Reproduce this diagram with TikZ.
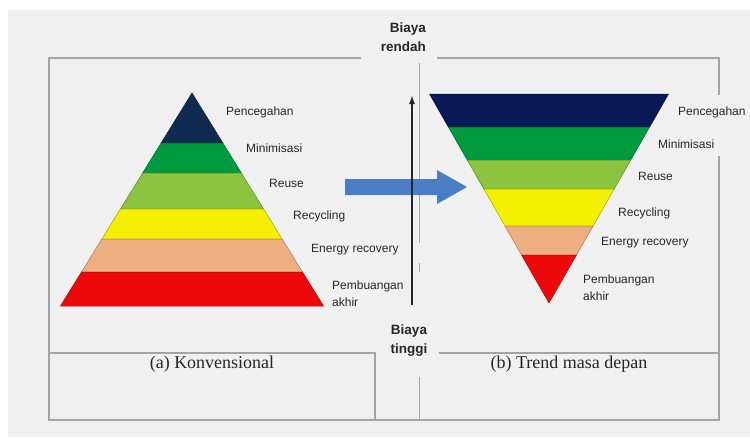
\documentclass[tikz,border=0pt]{standalone}
\usepackage{fontspec}
\setmainfont{Liberation Serif}
\setsansfont{Liberation Sans}
\usetikzlibrary{arrows.meta,calc}

\definecolor{bggray}{HTML}{F0F0F0}
\definecolor{framegray}{HTML}{A4A4A4}
\definecolor{labelgray}{HTML}{262626}
\definecolor{navyL}{HTML}{0F2B52}
\definecolor{navyR}{HTML}{0A1957}
\definecolor{grn}{HTML}{009A3E}
\definecolor{lgrn}{HTML}{8CC43F}
\definecolor{ylw}{HTML}{F2F000}
\definecolor{peach}{HTML}{EDAE80}
\definecolor{rd}{HTML}{EE0A0A}
\definecolor{arrowblue}{HTML}{4A7EC4}

\tikzset{
  frame/.style={draw=framegray,line width=1.3pt},
  lbl/.style={anchor=west,inner sep=0pt,text=labelgray,align=left,
    font=\sffamily\fontsize{12}{17}\selectfont},
  cost/.style={inner sep=0pt,text=labelgray,
    font=\sffamily\bfseries\fontsize{13.5}{19}\selectfont},
  capt/.style={inner sep=0pt,text=labelgray,font=\rmfamily\fontsize{18}{20}\selectfont}
}

\begin{document}
\begin{tikzpicture}[x=1pt,y=-1pt]

      \useasboundingbox (0,0) rectangle (750,437);
      \fill[bggray] (8,10) rectangle (750,437);

      \draw[frame] (361,58) -- (49,58) -- (49,420) -- (719,420) -- (719,156);
      \draw[frame] (437,58) -- (719,58) -- (719,95);
      \draw[frame] (49,353) -- (375,353) -- (375,420);
      \draw[frame] (439,353) -- (719,353);
      \draw[frame,line width=0.8pt] (419,63) -- (419,243);
      \draw[frame,line width=0.8pt] (419,263) -- (419,272);
      \draw[frame,line width=0.8pt] (419,377) -- (419,420);

      \coordinate (LT) at (192,93);
      \coordinate (LL) at (60.5,306);
      \coordinate (LR) at (323.5,306);
      \foreach \ya/\yb/\col in {93/143/navyL,143/173/grn,173/209/lgrn,209/239/ylw,239/272/peach,272/306/rd}
        \filldraw[fill=\col,draw=\col!70!black,line width=0.5pt]
          ($(LT)!{(\ya-93)/213}!(LL)$) -- ($(LT)!{(\yb-93)/213}!(LL)$)
          -- ($(LT)!{(\yb-93)/213}!(LR)$) -- ($(LT)!{(\ya-93)/213}!(LR)$) -- cycle;

      \coordinate (RB) at (549,303);
      \coordinate (RL) at (429.5,94);
      \coordinate (RR) at (668.5,94);
      \foreach \ya/\yb/\col in {94/127/navyR,127/160/grn,160/189/lgrn,189/226/ylw,226/255/peach,255/303/rd}
        \filldraw[fill=\col,draw=\col!70!black,line width=0.5pt]
          ($(RB)!{(303-\ya)/209}!(RL)$) -- ($(RB)!{(303-\yb)/209}!(RL)$)
          -- ($(RB)!{(303-\yb)/209}!(RR)$) -- ($(RB)!{(303-\ya)/209}!(RR)$) -- cycle;

      \node[lbl] (lpen) at (226,112) {Pencegahan};
      \node[lbl] (lmin) at (246,148) {Minimisasi};
      \node[lbl] (lreu) at (269,183) {Reuse};
      \node[lbl] (lrec) at (293,216) {Recycling};
      \node[lbl] (lene) at (311,250) {Energy recovery};
      \node[lbl] (lpem) at (332,293.5) {Pembuangan\\akhir};

      \node[lbl] (rpen) at (678,112) {Pencegahan};
      \node[lbl] (rmin) at (658,144) {Minimisasi};
      \node[lbl] (rreu) at (638,176) {Reuse};
      \node[lbl] (rrec) at (618,213) {Recycling};
      \node[lbl] (rene) at (601,243) {Energy recovery};
      \node[lbl] (rpem) at (583,287.5) {Pembuangan\\akhir};

      \fill[arrowblue] (345,179) -- (437,179) -- (437,170) -- (467,187)
        -- (437,204) -- (437,195) -- (345,195) -- cycle;

      \node[cost,align=right,anchor=east] (low) at (426,37.5) {Biaya\\rendah};
      \node[cost,align=center] (high) at (409,341) {Biaya\\tinggi};
      \coordinate (costlo) at (412,305);
      \coordinate (costhi) at (412,95);
      \draw[-{Latex[length=9pt,width=6pt]},line width=1.5pt,labelgray] (costlo) -- (costhi);

      \node[capt] (capa) at (212,364) {(a) Konvensional};
      \node[capt] (capb) at (569,364) {(b) Trend masa depan};
  \end{tikzpicture}
\end{document}
